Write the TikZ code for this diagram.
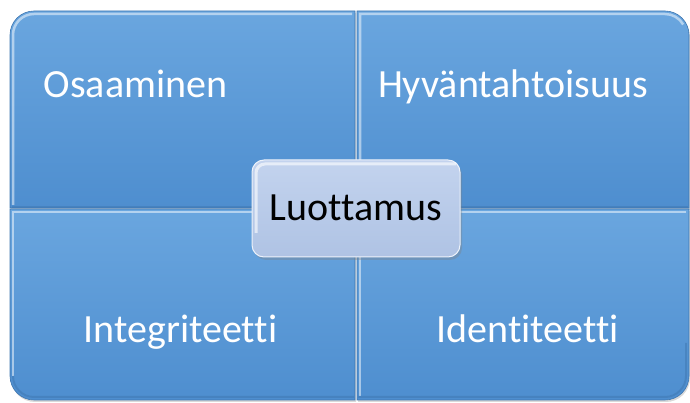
\documentclass[tikz,border=0pt]{standalone}
\usepackage{fontspec}
\setmainfont{Carlito}[Ligatures=NoCommon]
\usetikzlibrary{shadows}
\definecolor{qtop}{HTML}{6AA6DF}
\definecolor{qbot}{HTML}{4E8ECF}
\definecolor{qedge}{HTML}{3F77B0}
\definecolor{ctop}{HTML}{C3D3EE}
\definecolor{cbot}{HTML}{AFC3E4}
\tikzset{
  quad/.style={top color=qtop, bottom color=qbot, draw=qedge, line width=0.6pt,
    drop shadow={shadow xshift=1pt, shadow yshift=-2pt, opacity=0.3}},
  hilite/.style={draw=white, line width=2.5pt, opacity=0.5},
  darkrim/.style={draw=qedge, line width=2pt, opacity=0.5},
  qlabel/.style={text=white, font=\fontsize{40}{48}\selectfont, inner sep=0pt, anchor=base},
  centerbox/.style={top color=ctop, bottom color=cbot, draw=white!70!ctop, line width=1pt,
    rounded corners=12pt, drop shadow={shadow xshift=2pt, shadow yshift=-3pt, opacity=0.35}},
}
\begin{document}
\begin{tikzpicture}[x=1pt,y=1pt]
  \useasboundingbox (0,0) rectangle (690,403);
  % quadrants, each rounded only at its outer corner (y measured from the bottom edge)
  \path[quad] (10,195) -- (10,368) arc[start angle=180, end angle=90, radius=24]
    -- (355,392) -- (355,195) -- cycle;
  \path[quad] (357,195) -- (357,392) -- (665,392) arc[start angle=90, end angle=0, radius=24]
    -- (689,195) -- cycle;
  \path[quad] (10,194) -- (10,27) arc[start angle=180, end angle=270, radius=24]
    -- (355,3) -- (355,194) -- cycle;
  \path[quad] (357,194) -- (357,3) -- (665,3) arc[start angle=270, end angle=360, radius=24]
    -- (689,194) -- cycle;
  % bevel highlights along top and left edges
  \draw[hilite] (13,198) -- (13,368) arc[start angle=180, end angle=90, radius=21] -- (352,389);
  \draw[hilite] (360,198) -- (360,389) -- (665,389) arc[start angle=90, end angle=30, radius=21];
  \draw[hilite] (13,27) -- (13,191) -- (352,191);
  \draw[hilite] (360,7) -- (360,191) -- (686,191);
  % darker rims along bottom edges
  \draw[darkrim] (12,196) -- (354,196);
  \draw[darkrim] (358,196) -- (688,196);
  \draw[darkrim] (13,27) arc[start angle=180, end angle=270, radius=21] -- (354,6);
  \draw[darkrim] (358,6) -- (665,6) arc[start angle=270, end angle=360, radius=21] -- (686,60);
  % quadrant labels
  \node[qlabel] (osa) at (135.5,305) {Osaaminen};
  \node[qlabel] (hyv) at (513,305) {Hyväntahtoisuus};
  \node[qlabel] (int) at (180.5,60) {Integriteetti};
  \node[qlabel] (ide) at (527.5,60) {Identiteetti};
  % central box
  \path[centerbox] (252,146) rectangle (460,243);
  \draw[white, line width=3pt, opacity=0.6, rounded corners=9pt] (256,170) -- (256,239) -- (456,239);
  \node[qlabel, text=black] (luo) at (356,182) {Luottamus};
\end{tikzpicture}
\end{document}
